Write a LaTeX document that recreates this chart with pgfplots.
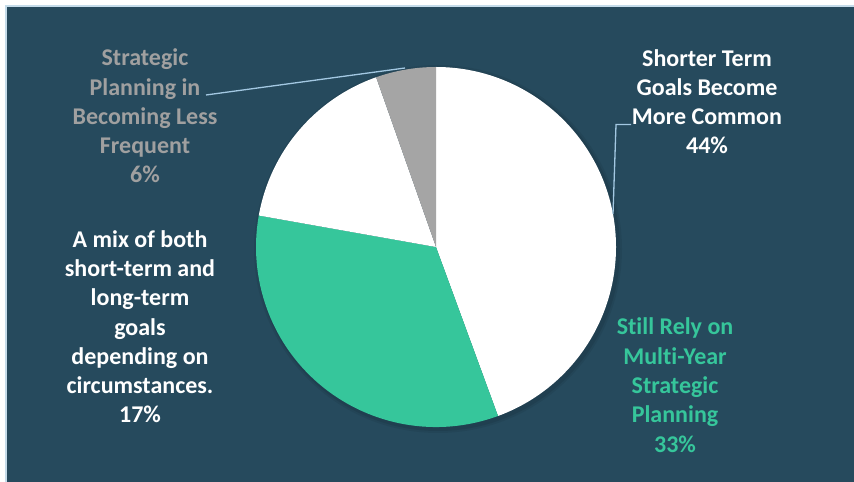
\documentclass[border=0pt]{standalone}
\usepackage{pgfplots}
\pgfplotsset{compat=1.18}
\usepackage{pgfplotstable}
\usepackage{fontspec}
\setmainfont{Carlito}[Ligatures=NoCommon]
\definecolor{bg}{HTML}{264A5D}
\definecolor{frameblue}{HTML}{C5DCEA}
\definecolor{pgreen}{HTML}{36C69B}
\definecolor{pgray}{HTML}{A5A5A5}
\definecolor{tgray}{HTML}{A0A0A0}
\definecolor{leader}{HTML}{A3C8E2}

\pgfplotstableread{
label value
Shorter 44.4
Still 33.4
Mix 16.8
Less 5.4
}\piedata
\pgfplotstablegetelem{0}{value}\of\piedata \let\vA\pgfplotsretval
\pgfplotstablegetelem{1}{value}\of\piedata \let\vB\pgfplotsretval
\pgfplotstablegetelem{2}{value}\of\piedata \let\vC\pgfplotsretval
\pgfplotstablegetelem{3}{value}\of\piedata \let\vD\pgfplotsretval
\pgfmathsetmacro\aA{90}
\pgfmathsetmacro\aB{\aA-3.6*\vA}
\pgfmathsetmacro\aC{\aB-3.6*\vB}
\pgfmathsetmacro\aD{\aC-3.6*\vC}
\pgfmathsetmacro\aE{\aD-3.6*\vD}

\begin{document}%
\begin{tikzpicture}
\begin{axis}[
  hide axis, scale only axis,
  width=854bp, height=482bp,
  xmin=0, xmax=854, ymin=0, ymax=482,
  clip=false,
]
% background
\fill[white] (axis cs:0,0) rectangle (axis cs:854,482);
\fill[frameblue] (axis cs:5,0) rectangle (axis cs:854,477);
\fill[bg] (axis cs:7,0) rectangle (axis cs:854,475);
% shadow
\fill[black, opacity=0.06] ([shift={(2bp,-2bp)}]axis cs:436,235) circle[radius=184bp];
\fill[black, opacity=0.08] ([shift={(2bp,-2bp)}]axis cs:436,235) circle[radius=182bp];
% slices
\def\cx{436}\def\cy{235}
\fill[white] (axis cs:\cx,\cy) -- ([shift={(\aA:180bp)}]axis cs:\cx,\cy) arc[start angle=\aA, end angle=\aB, radius=180bp] -- cycle;
\fill[pgreen] (axis cs:\cx,\cy) -- ([shift={(\aB:180bp)}]axis cs:\cx,\cy) arc[start angle=\aB, end angle=\aC, radius=180bp] -- cycle;
\fill[white] (axis cs:\cx,\cy) -- ([shift={(\aC:180bp)}]axis cs:\cx,\cy) arc[start angle=\aC, end angle=\aD, radius=180bp] -- cycle;
\fill[pgray] (axis cs:\cx,\cy) -- ([shift={(\aD:180bp)}]axis cs:\cx,\cy) arc[start angle=\aD, end angle=\aE, radius=180bp] -- cycle;
% leader lines
\draw[leader, line width=1.3bp] (axis cs:206,387) -- (axis cs:405,414);
\draw[leader, line width=1.3bp] (axis cs:631,357.5) -- (axis cs:616,357.5) -- (axis cs:613,268);
% labels
\tikzset{lb/.style={anchor=base, inner sep=0pt, font=\fontsize{24bp}{29bp}\selectfont\bfseries}}
% Strategic planning less frequent
\node[lb, text=tgray] at (axis cs:145,416) {Strategic};
\node[lb, text=tgray] at (axis cs:145,386.75) {Planning in};
\node[lb, text=tgray] at (axis cs:145,357.5) {Becoming Less};
\node[lb, text=tgray] at (axis cs:145,328.25) {Frequent};
\node[lb, text=tgray] at (axis cs:145,299) {6\%};
% Shorter term
\node[lb, text=white] at (axis cs:707,415.5) {Shorter Term};
\node[lb, text=white] at (axis cs:707,386.5) {Goals Become};
\node[lb, text=white] at (axis cs:707,357.5) {More Common};
\node[lb, text=white] at (axis cs:707,328.5) {44\%};
% Still rely
\node[lb, text=pgreen] at (axis cs:675,147) {Still Rely on};
\node[lb, text=pgreen] at (axis cs:675,117.75) {Multi-Year};
\node[lb, text=pgreen] at (axis cs:675,88.5) {Strategic};
\node[lb, text=pgreen] at (axis cs:675,59.25) {Planning};
\node[lb, text=pgreen] at (axis cs:675,30) {33\%};
% Mix
\node[lb, text=white] at (axis cs:140,234.5) {A mix of both};
\node[lb, text=white] at (axis cs:140,205.25) {short-term and};
\node[lb, text=white] at (axis cs:140,176) {long-term};
\node[lb, text=white] at (axis cs:140,146.75) {goals};
\node[lb, text=white] at (axis cs:140,117.5) {depending on};
\node[lb, text=white] at (axis cs:140,88.25) {circumstances.};
\node[lb, text=white] at (axis cs:140,59) {17\%};
\end{axis}
\pgfresetboundingbox
\path[use as bounding box] (current axis.south west) rectangle (current axis.north east);
\end{tikzpicture}%
\end{document}
